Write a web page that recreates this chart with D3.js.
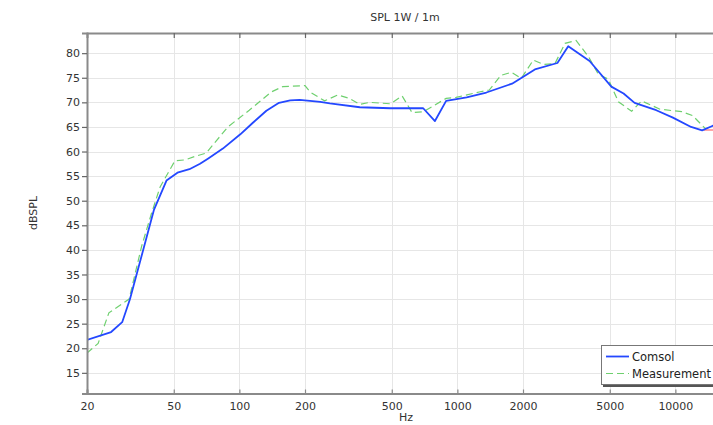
<!DOCTYPE html>
<html>
<head>
<meta charset="utf-8">
<script src="https://cdn.jsdelivr.net/npm/d3@7"></script>
<style>
  html, body { margin: 0; padding: 0; background: #fff; }
  svg { display: block; font-family: "DejaVu Sans", sans-serif; }
</style>
</head>
<body>
<svg id="chart" width="713" height="425"></svg>
<script>
// Simulated (COMSOL) SPL response, [frequency Hz, dB SPL]
const comsolFreq = [20, 25.8, 29, 31.5, 40.6, 46.3, 52, 59, 66, 72, 84, 101, 115, 133, 152, 171, 189, 235, 260, 357, 493, 697, 789, 888, 1103, 1358, 1782, 2267, 2876, 3225, 4041, 5083, 5786, 6500, 8170, 9742, 11807, 13264, 14770, 16000];
const comsolSpl  = [21.7, 23.3, 25.3, 30.0, 48.2, 54.1, 55.7, 56.4, 57.5, 58.6, 60.6, 63.5, 65.8, 68.3, 69.9, 70.4, 70.5, 70.1, 69.8, 69.0, 68.8, 68.8, 66.2, 70.3, 71.0, 72.0, 73.8, 76.7, 78.0, 81.4, 78.4, 73.2, 71.8, 69.9, 68.4, 66.9, 65.0, 64.3, 65.2, 65.6];

// Measured SPL response
const measFreq = [20, 22.5, 25.2, 31.2, 35.6, 39.5, 43.3, 50.6, 56.3, 63.5, 70.5, 88.5, 111, 140, 158, 200, 211, 246, 283, 320, 357, 397, 494, 558, 620, 698, 888, 986, 1259, 1400, 1585, 1768, 1965, 2230, 2480, 2805, 3118, 3503, 3993, 4436, 4926, 5478, 6300, 7000, 8500, 10690, 12000, 13700];
const measSpl  = [19.0, 21.0, 27.2, 30.0, 40.7, 47.4, 52.8, 58.1, 58.3, 59.1, 59.7, 65.0, 68.4, 72.1, 73.2, 73.4, 72.1, 70.3, 71.5, 70.8, 69.6, 70.0, 69.7, 71.3, 67.9, 68.1, 70.8, 71.0, 72.1, 72.5, 75.5, 76.1, 74.9, 78.6, 77.7, 77.9, 82.0, 82.6, 79.3, 75.7, 74.7, 70.1, 68.2, 70.3, 68.6, 68.1, 67.3, 64.7];

// Reference level trace at the top of the band
const refFreq = [13500, 16000];
const refSpl  = [64.4, 64.4];

const xTicks = [20, 50, 100, 200, 500, 1000, 2000, 5000, 10000];
const yTicks = [15, 20, 25, 30, 35, 40, 45, 50, 55, 60, 65, 70, 75, 80];
const legendNames = ["Comsol", "Measurement"];

(function draw() {
  const svg = d3.select("#chart");
  const m = { left: 87, right: 741, top: 33, bottom: 393.5 };

  const x = d3.scaleLog().domain([20, 20000]).range([m.left, m.right]);
  const y = d3.scaleLinear().domain([10.8, 84.1]).range([m.bottom, m.top]);

  svg.append("defs").append("clipPath").attr("id", "plotClip")
    .append("rect").attr("x", m.left).attr("y", m.top)
    .attr("width", m.right - m.left).attr("height", m.bottom - m.top);

  // grid
  const grid = svg.append("g").attr("stroke", "#e6e6e6").attr("stroke-width", 1);
  grid.selectAll("line.h").data(yTicks).join("line").attr("class", "h")
    .attr("x1", m.left).attr("x2", m.right)
    .attr("y1", d => Math.round(y(d)) + 0.5).attr("y2", d => Math.round(y(d)) + 0.5);
  grid.selectAll("line.v").data(xTicks.slice(1)).join("line").attr("class", "v")
    .attr("y1", m.top).attr("y2", m.bottom)
    .attr("x1", d => Math.round(x(d)) + 0.5).attr("x2", d => Math.round(x(d)) + 0.5);

  // series
  const plot = svg.append("g").attr("clip-path", "url(#plotClip)");
  const line = d3.line().x(d => x(d[0])).y(d => y(d[1]));

  plot.append("path").datum(d3.zip(refFreq, refSpl))
    .attr("fill", "none").attr("stroke", "#ff8a8a").attr("stroke-width", 1.5).attr("d", line);
  plot.append("path").datum(d3.zip(measFreq, measSpl))
    .attr("fill", "none").attr("stroke", "#6fd06f").attr("stroke-width", 1.2)
    .attr("stroke-dasharray", "7,4").attr("d", line);
  plot.append("path").datum(d3.zip(comsolFreq, comsolSpl))
    .attr("fill", "none").attr("stroke", "#2448ff").attr("stroke-width", 1.8)
    .attr("stroke-linejoin", "round").attr("d", line);

  // axes
  const axisColor = "#8a8a8a";
  const yAxis = svg.append("g").attr("transform", `translate(${m.left},0)`)
    .call(d3.axisLeft(y).tickValues(yTicks).tickSize(5).tickPadding(2));
  const xAxis = svg.append("g").attr("transform", `translate(0,${m.bottom})`)
    .call(d3.axisBottom(x).tickValues(xTicks).tickFormat(d3.format("d")).tickSize(-4).tickPadding(9));
  const topAxis = svg.append("g").attr("transform", `translate(0,${m.top})`)
    .call(d3.axisTop(x).tickValues(xTicks.slice(1)).tickFormat("").tickSize(-5));

  [yAxis, xAxis, topAxis].forEach(g => {
    g.select(".domain").attr("stroke", axisColor).attr("stroke-width", 2);
    g.selectAll(".tick line").attr("stroke", "#666").attr("stroke-width", 1.2);
    g.selectAll(".tick text").attr("fill", "#333").style("font-size", "11px")
      .style("font-family", "'DejaVu Sans', sans-serif");
  });
  xAxis.selectAll(".tick line").attr("stroke", axisColor);

  // titles
  svg.append("text").attr("x", 405).attr("y", 21).attr("text-anchor", "middle")
    .attr("fill", "#333").style("font-size", "11px").text("SPL 1W / 1m");
  svg.append("text").attr("x", 406).attr("y", 421).attr("text-anchor", "middle")
    .attr("fill", "#333").style("font-size", "11px").text("Hz");
  svg.append("text").attr("transform", "translate(37,213) rotate(-90)").attr("text-anchor", "middle")
    .attr("fill", "#333").style("font-size", "11px").text("dBSPL");

  // legend
  const lg = svg.append("g");
  lg.append("rect").attr("x", 603).attr("y", 347).attr("width", 130).attr("height", 40).attr("fill", "#555");
  lg.append("rect").attr("x", 601.5).attr("y", 345.5).attr("width", 130).attr("height", 39)
    .attr("fill", "#fff").attr("stroke", "#777").attr("stroke-width", 1);
  const styles = [
    { stroke: "#2448ff", width: 1.8, dash: null },
    { stroke: "#6fd06f", width: 1.2, dash: "7,4" }
  ];
  legendNames.forEach((name, i) => {
    const ly = 356.5 + i * 17;
    lg.append("line").attr("x1", 606).attr("x2", 629).attr("y1", ly).attr("y2", ly)
      .attr("stroke", styles[i].stroke).attr("stroke-width", styles[i].width)
      .attr("stroke-dasharray", styles[i].dash);
    lg.append("text").attr("x", 632).attr("y", ly + 4).attr("fill", "#222")
      .style("font-size", "11.5px").text(name);
  });
})();
</script>
</body>
</html>
